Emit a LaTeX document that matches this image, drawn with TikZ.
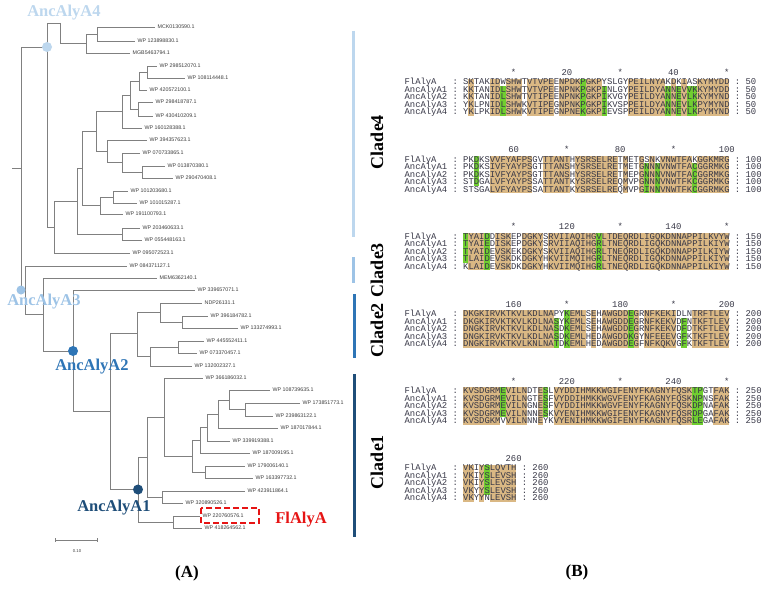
\documentclass[tikz,border=0pt]{standalone}
\usepackage{fontspec}
\setmainfont{Liberation Serif}
\setsansfont{Liberation Sans}
\setmonofont{Liberation Mono}

\definecolor{anc4}{RGB}{189,215,238}
\definecolor{anc3}{RGB}{157,195,230}
\definecolor{anc2}{RGB}{46,117,182}
\definecolor{anc1}{RGB}{31,78,121}
\definecolor{flred}{RGB}{230,20,20}
\definecolor{branchgray}{RGB}{128,128,128}
\definecolor{leafgray}{RGB}{60,60,60}
\definecolor{seqgray}{RGB}{55,55,70}
\definecolor{tanfill}{RGB}{218,184,132}
\definecolor{greenfill}{RGB}{112,206,48}

% column width of the alignment
\newcommand{\cw}{5.328}
% tan runs over all five rows
\newcommand{\alntan}[2]{\foreach \sta/\sto in {#2}
	\fill[tanfill] ({463+(\sta-1)*\cw},{#1-3.75}) rectangle ({463+\sto*\cw},{#1+33.75});}
% green cells: column/first row/last row
\newcommand{\alngreen}[2]{\foreach \gc/\gra/\grb in {#2}
	\fill[greenfill] ({463+(\gc-1)*\cw},{#1+(\gra-1)*7.5-3.75}) rectangle ({463+\gc*\cw},{#1+(\grb-1)*7.5+3.75});}
% ruler line above a block
\newcommand{\alnruler}[3]{\foreach \rc/\rt in {#3}
	\node[seqtxt, anchor=base] (#1r\rc) at ({463+(\rc-0.5)*\cw},{#2+2.6}) {\rt};}
% five sequence rows of a block
\newcommand{\alnrows}[9]{%
	\foreach \rw/\nm/\sq in {0/FlAlyA/#5,1/AncAlyA1/#6,2/AncAlyA2/#7,3/AncAlyA3/#8,4/AncAlyA4/#9}{
		\node[seqtxt] (#1n\rw) at (404.4,{#2+\rw*7.5+2.6}) {\nm};
		\node[seqtxt] (#1c\rw) at (452.4,{#2+\rw*7.5+2.6}) {:};
		\node[seqtxt] (#1s\rw) at (463,{#2+\rw*7.5+2.6}) {\sq};
		\node[seqtxt] (#1e\rw) at ({463+(#3+1)*\cw},{#2+\rw*7.5+2.6}) {:};
		\node[seqtxt] (#1k\rw) at ({463+(#3+3)*\cw},{#2+\rw*7.5+2.6}) {#4};
	}}

\begin{document}
\begin{tikzpicture}[x=1pt, y=-1pt,
		branch/.style={draw=branchgray, line width=0.6pt},
		leaf/.style={anchor=west, inner xsep=2.5pt, inner ysep=0.3pt, text=leafgray, font=\sffamily\fontsize{5.3}{6}\selectfont},
		dot/.style={circle, minimum size=10pt, inner sep=0pt},
		anc/.style={font=\bfseries\fontsize{16.5}{18}\selectfont},
		cladebar/.style={line width=3pt},
		cladelab/.style={rotate=90, font=\bfseries\fontsize{18}{20}\selectfont},
		hilite/.style={draw=flred, line width=1.4pt, dash pattern=on 6pt off 3pt},
		seqtxt/.style={font=\ttfamily\fontsize{8.88}{9}\selectfont, text=seqgray, inner sep=0pt, anchor=base west},
		panel/.style={font=\bfseries\fontsize{17}{19}\selectfont}
	]
	
	\fill[white] (0,0) rectangle (767,591);
	\useasboundingbox (0,0) rectangle (767,591);
	
	% ---- tree (A): inner nodes ----
	\coordinate (root) at (12,168);
	\coordinate (R) at (21,168);
	\coordinate (a4) at (47,47);
	\coordinate (i60) at (60,23);
	\coordinate (i86) at (86,43.5);
	\coordinate (i97) at (97,34);
	\coordinate (i54) at (54,227);
	\coordinate (i77) at (77,201);
	\coordinate (i82) at (82,168);
	\coordinate (i96) at (96,131);
	\coordinate (i122a) at (122,111.5);
	\coordinate (i130) at (130,95);
	\coordinate (i139) at (139,81);
	\coordinate (i147) at (147,72);
	\coordinate (i138) at (138,109);
	\coordinate (i107) at (107,151);
	\coordinate (i122b) at (122,162.5);
	\coordinate (i142) at (142,172);
	\coordinate (i100) at (100,205.5);
	\coordinate (i113) at (113,197);
	\coordinate (i122c) at (122,234);
	\coordinate (i25) at (25,290);
	\coordinate (i43) at (43,314.5);
	\coordinate (a2) at (73,351);
	\coordinate (i110) at (110,411);
	\coordinate (i137) at (137,333);
	\coordinate (i160) at (160,312.5);
	\coordinate (i182) at (182,322);
	\coordinate (i150) at (150,356.5);
	\coordinate (i178) at (178,347);
	\coordinate (a1) at (138,489.5);
	\coordinate (i147b) at (147,457);
	\coordinate (i164) at (164,417);
	\coordinate (i192) at (192,456);
	\coordinate (i200) at (200,440);
	\coordinate (i207) at (207,427.5);
	\coordinate (i218) at (218,414);
	\coordinate (i229) at (229,400);
	\coordinate (i245) at (245,409.5);
	\coordinate (i205) at (205,472);
	\coordinate (i162) at (162,497);
	\coordinate (i173) at (173,522);
	
	% ---- leaves ----
	\foreach \id/\upn/\ly/\xe/\txt in {
		lf1/i97/27/155/MCK0130590.1, lf2/i97/41/135/WP 123898830.1, lf3/i86/53/130/MGB5463794.1,
		lf4/i147/66/157/WP 298512070.1, lf5/i147/78/185/WP 108114448.1, lf6/i139/90/147/WP 420572100.1,
		lf7/i138/102/153/WP 298418787.1, lf8/i138/116/153/WP 430410209.1, lf9/i122a/128/142/WP 160128388.1,
		lf10/i107/140/147/WP 394357623.1, lf11/i122b/153/140/WP 070733865.1, lf12/i142/166/165/WP 013870380.1,
		lf13/i142/178/173/WP 290470408.1, lf14/i113/191/128/WP 101203680.1, lf15/i113/203/137/WP 101015287.1,
		lf16/i100/214/123/WP 191100793.1, lf17/i122c/228/140/WP 203460633.1, lf18/i122c/240/142/WP 055448163.1,
		lf19/i54/253/130/WP 095072523.1, lf20/i25/266/127/WP 084371127.1, lf21/i43/278/157/MEM6362140.1,
		lf22/a2/290/195/WP 339657071.1, lf23/i160/303/202/NDP26131.1, lf24/i182/316/208/WP 396184782.1,
		lf25/i182/328/238/WP 133274993.1, lf26/i178/341/204/WP 445552411.1, lf27/i178/353/197/WP 073370457.1,
		lf28/i150/366/192/WP 132002327.1, lf29/i164/378/203/WP 366186032.1, lf30/i229/390/270/WP 108739635.1,
		lf31/i245/403/300/WP 173851773.1, lf32/i245/416/273/WP 239863122.1, lf33/i218/428/278/WP 187017844.1,
		lf34/i207/441/230/WP 339919388.1, lf35/i200/453/250/WP 187009195.1, lf36/i205/466/245/WP 179006140.1,
		lf37/i205/478/253/WP 163397732.1, lf38/i162/491/245/WP 423911864.1, lf39/i162/503/183/WP 320890526.1,
		lf40/i173/516/200/WP 220760576.1, lf41/i173/528/202/WP 418264562.1}{
		\node[leaf] (\id) at (\xe,\ly) {\txt};
		\draw[branch] (\upn) |- (\id);
	}
	
	% ---- inner branches ----
	\draw[branch] (root) -- (R);
	\foreach \pa/\ch in {R/a4, R/i25, a4/i60, a4/i54, i60/i86, i86/i97, i54/i77, i77/i82, i77/i122c,
		i82/i96, i82/i100, i96/i122a, i96/i107, i122a/i130, i130/i139, i130/i138, i139/i147,
		i107/i122b, i122b/i142, i100/i113, i25/i43, i43/a2, a2/i110, i110/i137, i110/a1,
		i137/i160, i137/i150, i160/i182, i150/i178, a1/i147b, a1/i173, i147b/i164, i147b/i162,
		i164/i192, i192/i200, i192/i205, i200/i207, i207/i218, i218/i229, i229/i245}
	\draw[branch] (\pa) |- (\ch);
	
	% ---- ancestors ----
	\node[dot, fill=anc4] (a4dot) at (a4) {};
	\node[dot, fill=anc3, minimum size=9pt] (a3dot) at (R |- i25) {};
	\node[dot, fill=anc2] (a2dot) at (a2) {};
	\node[dot, fill=anc1] (a1dot) at (a1) {};
	
	\node[anc, text=anc4] (a4lab) at (64,13) {AncAlyA4};
	\node[anc, text=anc3] (a3lab) at (44,302) {AncAlyA3};
	\node[anc, text=anc2] (a2lab) at (92,367) {AncAlyA2};
	\node[anc, text=anc1] (a1lab) at (114,508) {AncAlyA1};
	\node[anc, text=flred] (fllab) at (301,520) {FlAlyA};
	\draw[hilite] (201,508) rectangle (259,523);
	
	% ---- scale bar ----
	\coordinate (sbl) at (55,540);
	\coordinate (sbr) at (97,540);
	\draw[branch] (sbl) -- (sbr);
	\draw[branch] ([yshift=2pt]sbl) -- ([yshift=-2pt]sbl);
	\draw[branch] ([yshift=2pt]sbr) -- ([yshift=-2pt]sbr);
	\node[font=\sffamily\fontsize{4.2}{5}\selectfont, text=leafgray] (sblab) at (77,551) {0.10};
	
	% ---- clades ----
	\draw[cladebar, anc4] (353,31) -- (353,237);
	\draw[cladebar, anc3] (353,257) -- (353,283);
	\draw[cladebar, anc2] (354,294) -- (354,358);
	\draw[cladebar, anc1] (354,374) -- (354,537);
	\node[cladelab] (c4lab) at (377,142) {Clade4};
	\node[cladelab] (c3lab) at (377,270) {Clade3};
	\node[cladelab] (c2lab) at (377,330) {Clade2};
	\node[cladelab] (c1lab) at (377,462) {Clade1};
	
	% ---- alignment (B) ----
	\alntan{82.3}{2/2,6/7,9/11,13/17,19/22,24/26,32/38,40/40,42/42,45/50}
	\alngreen{82.3}{8/2/5,23/1/5,27/2/5,39/2/5,41/2/5,43/2/5,44/2/5}
	\alnruler{b1}{72.8}{10/*,20/20,30/*,40/40,50/*}
	\alnrows{b1}{82.3}{50}{50}{SKTAKIDWSHWTVTVPEENPDKPGKPYSLGYPEILNYAKDKIASKYMYDD}{KKTANIDLSHWTVTVPEENPNKPGKPINLGYPEILDYANNEVVKKYMYDD}{KKTANIDLSHWTVTIPEENPNKPGKPIKVGYPEILDYANNEVLKKYMYND}{YKLPNIDLSHWKVTIPEGNPNKPGKPIKVSPPEILDYANNEVLKPYMYND}{YKLPKIDLSHWKVTIPEGNPNEKGKPIEVSPPEILDYANNEVLKPYMYND}
	
	\alntan{159.5}{6/13,16/20,22/29,31/31,34/34,36/36,38/43,45/50}
	\alngreen{159.5}{3/1/4,35/2/5,37/2/5,44/2/5}
	\alnruler{b2}{150}{10/60,20/*,30/80,40/*,50/100}
	\alnrows{b2}{159.5}{50}{100}{PKDKSVVFYAFPSGVTTANTHYSRSELRETMETGSNKVNWTFAKGGKMRG}{PKDKSIVFYAYPSGTTTANSHYSRSELRETMETGNNNVNWTFACGGRMKG}{PKDKSIVFYAYPSGTTTANSHYSRSELRETMEPGNNNVNWTFACGGRMKG}{STDGALVFYAYPSSATTANTKYSRSELREQMVPGNNNVNWTFKCGGRMKG}{STSGALVFYAYPSSATTANTKYSRSELREQMVPGINNVNWTFKCGGRMKG}
	
	\alntan{236.7}{2/4,7/9,12/15,17/25,27/50}
	\alngreen{236.7}{1/1/4,5/1/5,26/1/5}
	\alnruler{b3}{227.2}{10/*,20/120,30/*,40/140,50/*}
	\alnrows{b3}{236.7}{50}{150}{TYAIDDISKEPDGKYSRVIIAQIHGVLTDEQRDLIGQKDNNAPPILKVYW}{TYAIEDISKEPDGKYSRVIIAQIHGRLTNEQRDLIGQKDNNAPPILKIYW}{TYAIDEVSKEKDGKYSKVIIAQIHGRLTNEQRDLIGQKDNNAPPILKIYW}{TLAIDEVSKDKDGKYHKVIIMQIHGRLTNEQRDLIGQKDNNAPPILKIYW}{KLAIDEVSKDKDGKYHKVIIMQIHGRLTNEQRDLIGQKDNNAPPILKIYW}
	
	\alntan{313.9}{1/17,21/23,25/25,27/31,33/33,35/40,44/50}
	\alngreen{313.9}{18/2/5,20/1/5,32/1/5,42/2/5}
	\alnruler{b4}{304.4}{10/160,20/*,30/180,40/*,50/200}
	\alnrows{b4}{313.9}{50}{200}{DKGKIRVKTKVLKDLNAPYKEMLSEHAWGDDEGRNFKEKIDLNTRFTLEV}{DKGKIRVKTKVLKDLNASYKEMLSEHAWGDDEGRNFKEKVDFNTKFTLEV}{DNGKIRVKTKVLKDLNASDKEMLSEHAWGDDEGRNFKEKVDFDTKFTLEV}{DNGKIRVKTKVLKDLNASDKEMLHEDAWGDDKGYNFEEEVGFKTKFTLEV}{DNGKIRVKTKVLKNLNATDKEMLHEDAWGDDEGFNFKQKVGFKTKFTLEV}
	
	\alntan{391.1}{1/7,9/12,15/15,18/43,48/50}
	\alngreen{391.1}{8/1/4,16/1/4,44/1/5,45/1/5}
	\alnruler{b5}{381.6}{10/*,20/220,30/*,40/240,50/*}
	\alnrows{b5}{391.1}{50}{250}{KVSDGRMEVILNDTESLVYDDIHMKKWGIFENYFKAGNYFQSKTPGTFAK}{KVSDGRMEVILNGTESFVYDDIHMKKWGVFENYFKAGNYFQSKNPNSFAK}{KVSDGRMEVILNGNESFVYDDIHMKKWGVFENYFKAGNYFQSKDPNAFAK}{KVSDGRMEVILNNNESKVYENIHMKKWGIFENYFKAGNYFQSRDPGAFAK}{KVSDGKMVVILNNNEYKVYENIHMKKWGIFENYFKAGNYFQSRLEGAFAK}
	
	\alntan{468.3}{1/2,4/4,6/10}
	\alngreen{468.3}{5/1/4}
	\alnruler{b6}{458.8}{10/260}
	\alnrows{b6}{468.3}{10}{260}{VKIYSLQVTH}{VKIYSLEVSH}{VKIYSLEVSH}{VKYYSLEVSH}{VKYYNLEVSH}
	
	% ---- panel labels ----
	\node[panel] (pA) at (187,573) {(A)};
	\node[panel] (pB) at (577,572) {(B)};
	
\end{tikzpicture}
\end{document}
